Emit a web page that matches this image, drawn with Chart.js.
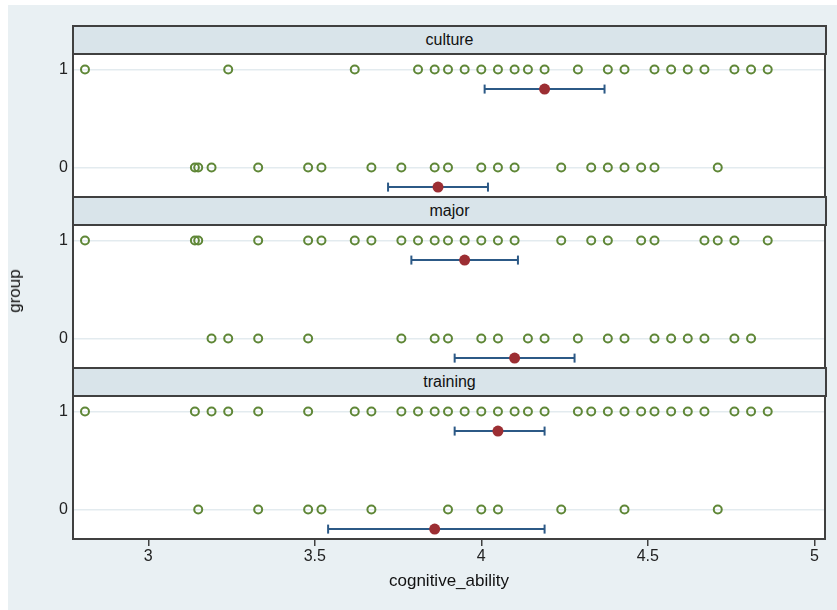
<!DOCTYPE html>
<html>
<head>
<meta charset="utf-8">
<script src="https://cdn.jsdelivr.net/npm/chart.js@4.4.0/dist/chart.umd.min.js"></script>
<style>
  body { margin: 0; background: #fff; font-family: "Liberation Sans", Arial, sans-serif; }
  #wrap { position: relative; width: 837px; height: 610px; overflow: hidden; }
  #bg { position: absolute; left: 8px; top: 5px; width: 829px; height: 605px; background: #e9f0f3; }
  .strip { position: absolute; left: 72px; width: 755px; height: 30px; box-sizing: border-box;
           background: #d9e4ea; border: 2px solid #404040; text-align: center;
           font-size: 16px; line-height: 26px; color: #111; }
  canvas { position: absolute; left: 0; }
  #ytitle { position: absolute; left: 15px; top: 291px; transform: translate(-50%, -50%) rotate(-90deg);
            font-size: 17px; color: #111; white-space: nowrap; }
</style>
</head>
<body>
<div id="wrap">
  <div id="bg"></div>
  <canvas id="c0" width="837" height="144" style="top:53px"></canvas>
  <canvas id="c1" width="837" height="144" style="top:224px"></canvas>
  <canvas id="c2" width="837" height="215" style="top:395px"></canvas>
  <div class="strip" style="top:25px">culture</div>
  <div class="strip" style="top:196px">major</div>
  <div class="strip" style="top:367px">training</div>
  <div id="ytitle">group</div>
</div>
<script>
// dados
const panels = ["culture", "major", "training"];
const groups = [1, 0];
const xTicks = [3, 3.5, 4, 4.5, 5];

const cultureOne = [2.81, 3.24, 3.62, 3.81, 3.86, 3.90, 3.95, 4.00, 4.05, 4.10, 4.14, 4.19, 4.29, 4.38, 4.43, 4.52, 4.57, 4.62, 4.67, 4.76, 4.81, 4.86];
const cultureZero = [3.14, 3.15, 3.19, 3.33, 3.48, 3.52, 3.67, 3.76, 3.86, 3.90, 4.00, 4.05, 4.10, 4.24, 4.33, 4.38, 4.43, 4.48, 4.52, 4.71];
const cultureMean = [4.19, 3.87];
const cultureLow = [4.01, 3.72];
const cultureHigh = [4.37, 4.02];

const majorOne = [2.81, 3.14, 3.15, 3.33, 3.48, 3.52, 3.62, 3.67, 3.76, 3.81, 3.86, 3.90, 3.95, 4.00, 4.05, 4.10, 4.24, 4.33, 4.38, 4.48, 4.52, 4.67, 4.71, 4.76, 4.86];
const majorZero = [3.19, 3.24, 3.33, 3.48, 3.76, 3.86, 3.90, 4.00, 4.05, 4.14, 4.19, 4.29, 4.38, 4.43, 4.52, 4.57, 4.62, 4.67, 4.76, 4.81];
const majorMean = [3.95, 4.10];
const majorLow = [3.79, 3.92];
const majorHigh = [4.11, 4.28];

const trainingOne = [2.81, 3.14, 3.19, 3.24, 3.33, 3.48, 3.62, 3.67, 3.76, 3.81, 3.86, 3.90, 3.95, 4.00, 4.05, 4.10, 4.14, 4.19, 4.29, 4.33, 4.38, 4.43, 4.48, 4.52, 4.57, 4.62, 4.67, 4.76, 4.81, 4.86];
const trainingZero = [3.15, 3.33, 3.48, 3.52, 3.67, 3.90, 4.00, 4.05, 4.24, 4.43, 4.71];
const trainingMean = [4.05, 3.86];
const trainingLow = [3.92, 3.54];
const trainingHigh = [4.19, 4.19];

// estilo
const green = "#5f8737";
const red = "#9c2e33";
const blue = "#2c5986";
const meanOffset = 0.2;

Chart.defaults.font.family = '"Liberation Sans", Arial, sans-serif';

// fundo branco e moldura do painel
const frame = {
  id: "frame",
  beforeDraw(chart) {
    const { ctx, chartArea: a } = chart;
    ctx.save();
    ctx.fillStyle = "#fff";
    ctx.fillRect(a.left, a.top, a.right - a.left, a.bottom - a.top);
    ctx.restore();
  },
  afterDraw(chart) {
    const { ctx, chartArea: a } = chart;
    ctx.save();
    ctx.strokeStyle = "#404040";
    ctx.lineWidth = 2;
    ctx.strokeRect(a.left, a.top, a.right - a.left, a.bottom - a.top);
    ctx.restore();
  }
};

function noPad(ax) {
  ax.paddingTop = 0;
  ax.paddingBottom = 0;
  ax.paddingLeft = 0;
  ax.paddingRight = 0;
}

function ciLine(i, low, high) {
  const y = groups[i] - meanOffset;
  return {
    data: [{ x: low[i], y }, { x: high[i], y }],
    showLine: true,
    borderColor: blue,
    borderWidth: 2,
    pointStyle: "line",
    rotation: 90,
    pointRadius: 4.5,
    pointBorderColor: blue,
    pointBorderWidth: 2
  };
}

function dots(values, g) {
  return {
    data: values.map(x => ({ x, y: g })),
    pointStyle: "circle",
    pointRadius: 4,
    pointBorderWidth: 2,
    pointBorderColor: green,
    pointBackgroundColor: "rgba(0,0,0,0)"
  };
}

function makePanel(id, ones, zeros, mean, low, high, last) {
  new Chart(document.getElementById(id), {
    type: "scatter",
    data: {
      datasets: [
        {
          data: mean.map((m, i) => ({ x: m, y: groups[i] - meanOffset })),
          pointRadius: 5.5,
          pointBorderWidth: 0,
          pointBackgroundColor: red
        },
        ciLine(0, low, high),
        ciLine(1, low, high),
        dots(ones, 1),
        dots(zeros, 0)
      ]
    },
    options: {
      responsive: false,
      maintainAspectRatio: false,
      animation: false,
      devicePixelRatio: 1,
      layout: { autoPadding: false, padding: { left: 0, right: 12, top: 0, bottom: 0 } },
      plugins: { legend: { display: false }, tooltip: { enabled: false } },
      scales: {
        x: {
          type: "linear",
          min: 2.774,
          max: 5.032,
          display: last,
          afterBuildTicks: ax => { ax.ticks = xTicks.map(v => ({ value: v })); },
          afterFit: ax => { noPad(ax); if (last) ax.height = 71; },
          grid: { drawOnChartArea: false, drawTicks: true, tickLength: 7, color: "#404040", lineWidth: 1.5 },
          border: { display: false },
          ticks: {
            padding: 1, maxRotation: 0, autoSkip: false, color: "#222", font: { size: 16 },
            callback: v => String(v)
          },
          title: {
            display: true,
            text: "cognitive_ability",
            color: "#111",
            font: { size: 17 },
            padding: { top: 4, bottom: 18 }
          }
        },
        y: {
          type: "linear",
          min: -0.301,
          max: 1.168,
          afterBuildTicks: ax => { ax.ticks = groups.map(v => ({ value: v })); },
          afterFit: ax => { noPad(ax); ax.width = 73; },
          grid: { color: "#e3ebef", lineWidth: 1.5, drawTicks: false },
          border: { display: false },
          ticks: { padding: 5, color: "#222", font: { size: 16 }, callback: v => String(v) }
        }
      }
    },
    plugins: [frame]
  });
}

makePanel("c0", cultureOne, cultureZero, cultureMean, cultureLow, cultureHigh, false);
makePanel("c1", majorOne, majorZero, majorMean, majorLow, majorHigh, false);
makePanel("c2", trainingOne, trainingZero, trainingMean, trainingLow, trainingHigh, true);
</script>
</body>
</html>
